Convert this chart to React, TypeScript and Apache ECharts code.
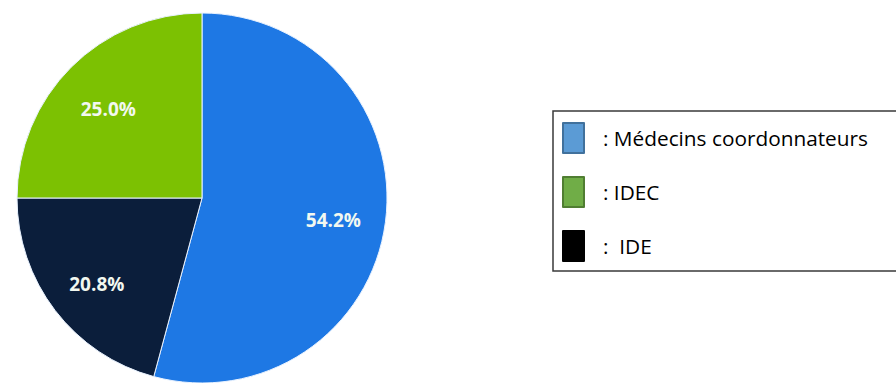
import React, { useEffect, useRef } from "react";
import * as echarts from "echarts";

const categories = ["Médecins coordonnateurs", "IDE", "IDEC"];
const percentages = [54.2, 20.8, 25.0];
const sliceColors = ["#1e78e4", "#0b1e3b", "#7cc102"];
const legendOrder = ["Médecins coordonnateurs", "IDEC", "IDE"];
const legendLabels = [": Médecins coordonnateurs", ": IDEC", ":  IDE"];
const legendFill = ["#5b9bd5", "#70ad47", "#000000"];
const legendBorder = ["#41719c", "#507e32", "#000000"];

export default function App() {
  const ref = useRef<HTMLDivElement>(null);
  useEffect(() => {
    if (!ref.current) return;
    const chart = echarts.init(ref.current, null, { renderer: "svg" });
    const data = categories.map((name, i) => ({
      name,
      value: percentages[i],
      itemStyle: { color: sliceColors[i] },
    }));
    chart.setOption({
      animation: false,
      backgroundColor: "#ffffff",
      legend: {
        orient: "vertical",
        left: 553,
        top: 111,
        padding: [11, 30, 9, 9],
        itemWidth: 21,
        itemHeight: 30,
        itemGap: 22,
        borderColor: "#3a3a3a",
        borderWidth: 1.5,
        selectedMode: false,
        icon: "rect",
        data: legendOrder.map((name, i) => ({
          name,
          itemStyle: { color: legendFill[i], borderColor: legendBorder[i], borderWidth: 2 },
        })),
        formatter: (name: string) => legendLabels[legendOrder.indexOf(name)],
        textStyle: {
          fontFamily: "Open Sans",
          fontSize: 20.8,
          color: "#000000",
          padding: [0, 0, 0, 14],
        },
      },
      series: [
        {
          type: "pie",
          center: [202, 198],
          radius: [0, 185],
          startAngle: 90,
          clockwise: true,
          silent: true,
          label: { show: false },
          labelLine: { show: false },
          itemStyle: { borderColor: "#e8f2ff", borderWidth: 1 },
          data,
        },
        {
          type: "pie",
          center: [202, 198],
          radius: [74, 185],
          startAngle: 90,
          clockwise: true,
          silent: true,
          itemStyle: { color: "transparent", borderWidth: 0 },
          labelLine: { show: false },
          label: {
            show: true,
            position: "inside",
            offset: [0, 5],
            formatter: (p: any) => `${Number(p.value).toFixed(1)}%`,
            fontFamily: "Open Sans",
            fontWeight: "bold",
            fontSize: 19,
            color: "#f2f8f0",
          },
          data: categories.map((name, i) => ({
            name,
            value: percentages[i],
            itemStyle: { color: "transparent" },
          })),
        },
      ],
    });
    return () => chart.dispose();
  }, []);
  return (
    <div
      ref={ref}
      style={{ position: "fixed", left: 0, top: 0, width: 896, height: 383 }}
    />
  );
}
